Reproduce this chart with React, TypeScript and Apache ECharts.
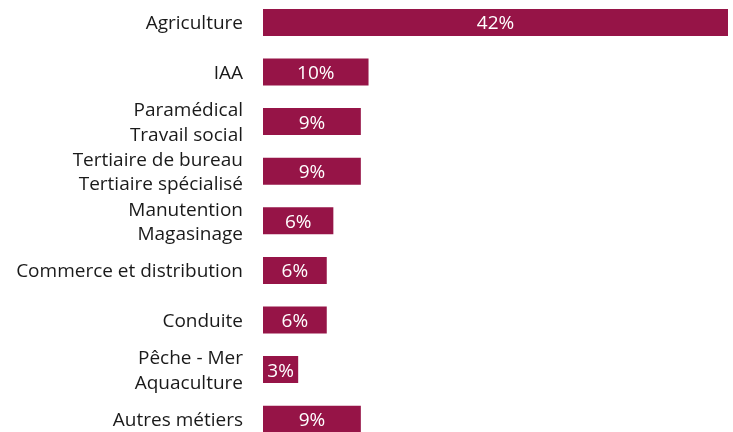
import React, { useEffect, useRef } from "react";
import * as echarts from "echarts";

const categories = [
  "Agriculture",
  "IAA",
  "Paramédical\nTravail social",
  "Tertiaire de bureau\nTertiaire spécialisé",
  "Manutention\nMagasinage",
  "Commerce et distribution",
  "Conduite",
  "Pêche - Mer\nAquaculture",
  "Autres métiers",
];
const values = [42.3, 9.6, 8.9, 8.9, 6.4, 5.8, 5.8, 3.2, 8.9];
const barLabels = ["42%", "10%", "9%", "9%", "6%", "6%", "6%", "3%", "9%"];

const FONT = "'Open Sans', Roboto, sans-serif";

export default function App() {
  const ref = useRef<HTMLDivElement>(null);
  useEffect(() => {
    if (!ref.current) return;
    const chart = echarts.init(ref.current, undefined, { renderer: "svg" });
    chart.setOption({
      animation: false,
      grid: {
        left: 263,
        right: 5,
        top: -2.4,
        height: 446.4,
        containLabel: false,
        outerBoundsMode: "none",
      },
      xAxis: {
        type: "value",
        min: 0,
        max: values[0],
        show: false,
      },
      yAxis: {
        type: "category",
        inverse: true,
        data: categories,
        axisLine: { show: false },
        axisTick: { show: false },
        splitLine: { show: false },
        axisLabel: {
          margin: 20,
          color: "#1a1a1a",
          fontSize: 19,
          fontFamily: FONT,
          lineHeight: 24.5,
          align: "right",
        },
      },
      series: [
        {
          type: "bar",
          data: values,
          barWidth: 27,
          itemStyle: { color: "#961447" },
          label: {
            show: true,
            position: "inside",
            color: "#ffffff",
            fontSize: 19,
            fontFamily: FONT,
            formatter: (p: any) => barLabels[p.dataIndex],
          },
        },
      ],
    });
    return () => chart.dispose();
  }, []);
  return (
    <div
      ref={ref}
      style={{ width: 733, height: 432, position: "fixed", left: 0, top: 0 }}
    />
  );
}
